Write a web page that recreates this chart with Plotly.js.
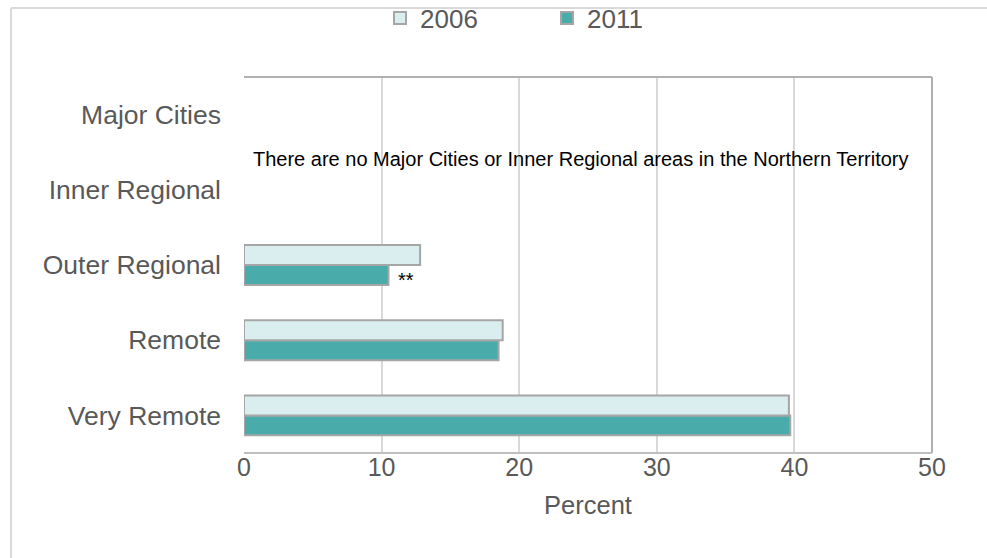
<!DOCTYPE html>
<html>
<head>
<meta charset="utf-8">
<script src="https://cdn.plot.ly/plotly-3.0.1.min.js"></script>
<style>html,body{margin:0;padding:0;background:#fff;}#chart{width:987px;height:558px;}</style>
</head>
<body>
<div id="chart"></div>
<script>
const categories = ["Very Remote", "Remote", "Outer Regional", "Inner Regional", "Major Cities"];
const values2006 = [39.6, 18.8, 12.8, null, null];
const values2011 = [39.7, 18.5, 10.5, null, null];
const seriesNames = ["2006", "2011"];
const xTicks = [0, 10, 20, 30, 40, 50];
const noteText = "There are no Major Cities or Inner Regional areas in the Northern Territory";
const sigMark = "**";

const FONT = "Liberation Sans, Arial, sans-serif";
const GREY = "#595959";

const traces = [
  {
    type: "bar", orientation: "h", name: seriesNames[1],
    y: categories, x: values2011,
    marker: {color: "#4aabab", line: {color: "#a6a6a6", width: 2}},
    legendrank: 2, hoverinfo: "x"
  },
  {
    type: "bar", orientation: "h", name: seriesNames[0],
    y: categories, x: values2006,
    marker: {color: "#daedef", line: {color: "#a6a6a6", width: 2}},
    legendrank: 1, hoverinfo: "x"
  }
];

const L = 244, R = 932, T = 77, B = 453, W = 987, H = 558;
const pw = R - L, ph = B - T;
const px = v => (v - L) / pw;
const py = v => (B - v) / ph;

const layout = {
  width: W, height: H,
  margin: {l: L, r: W - R, t: T, b: H - B, pad: 0, autoexpand: false},
  paper_bgcolor: "#ffffff", plot_bgcolor: "#ffffff",
  font: {family: FONT, size: 24, color: GREY},
  barmode: "group", bargap: 0.47, bargroupgap: 0,
  showlegend: true,
  legend: {
    orientation: "h", x: px(380), xanchor: "left", y: py(18), yanchor: "middle",
    font: {family: FONT, size: 26, color: GREY},
    entrywidth: 122, entrywidthmode: "pixels",
    bgcolor: "rgba(0,0,0,0)"
  },
  xaxis: {
    range: [0, 50], tickvals: xTicks, ticktext: xTicks.map(String),
    showgrid: true, gridcolor: "#d9d9d9", gridwidth: 2,
    zeroline: false, showline: false, ticks: "",
    ticklabelstandoff: -3,
    tickfont: {family: FONT, size: 25, color: GREY},
    title: {text: "Percent", font: {family: FONT, size: 25.5, color: GREY}, standoff: 16},
    fixedrange: true
  },
  yaxis: {
    type: "category", categoryorder: "array", categoryarray: categories,
    range: [-0.5, 4.5],
    showgrid: false, zeroline: false, showline: false, ticks: "",
    ticklabelstandoff: 22,
    tickfont: {family: FONT, size: 26.5, color: GREY},
    fixedrange: true
  },
  shapes: [
    {type: "line", xref: "paper", yref: "paper", x0: 0, x1: 1, y0: 1, y1: 1, line: {color: "#b0b0b0", width: 2}},
    {type: "line", xref: "paper", yref: "paper", x0: 1, x1: 1, y0: 0, y1: 1, line: {color: "#b0b0b0", width: 2}},
    {type: "line", xref: "paper", yref: "paper", x0: 0, x1: 1, y0: 0, y1: 0, line: {color: "#bfbfbf", width: 2}},
    {type: "line", xref: "paper", yref: "paper", x0: px(11), x1: px(990), y0: py(8), y1: py(8), line: {color: "#d9d9d9", width: 2}},
    {type: "line", xref: "paper", yref: "paper", x0: px(11), x1: px(11), y0: py(8), y1: py(570), line: {color: "#d9d9d9", width: 2}}
  ],
  annotations: [
    {
      xref: "paper", yref: "paper", x: px(251), y: py(159), xanchor: "left", yanchor: "middle",
      text: noteText, showarrow: false,
      font: {family: FONT, size: 20, color: "#000000"}
    },
    {
      xref: "x", yref: "y", x: values2011[2], y: categories[2], xanchor: "left", yanchor: "middle",
      xshift: 8, yshift: -15,
      text: sigMark, showarrow: false,
      font: {family: FONT, size: 20, color: "#000000"}
    }
  ]
};

Plotly.newPlot("chart", traces, layout, {displayModeBar: false, staticPlot: true});
</script>
</body>
</html>
